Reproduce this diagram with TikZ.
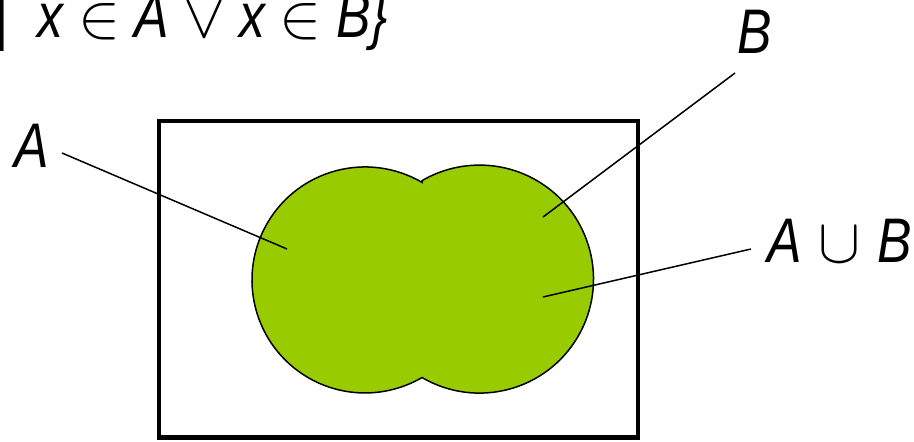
\documentclass[tikz,border=0pt]{standalone}
\usepackage{fix-cm}
\usepackage{fontspec}
\setmainfont{Liberation Sans}[FakeStretch=0.82]
\definecolor{vgreen}{HTML}{99CC00}
\tikzset{
  lbl/.style={inner sep=0pt, anchor=base west, font=\fontsize{63}{70}\selectfont\itshape},
  leader/.style={line width=1.5pt},
}
\begin{document}
\begin{tikzpicture}[x=1pt,y=1pt]
\useasboundingbox (0,0) rectangle (914,442);
\clip (0,0) rectangle (914,442);
% universe rectangle
\draw[line width=4.5pt] (159,4.25) rectangle (638,321);
% union of A and B
\path[fill=vgreen, draw=black, line width=1.5pt]
  (422,259.6) arc[start angle=59.7, end angle=300.3, radius=113]
  arc[start angle=-120.3, end angle=120.3, radius=114] -- cycle;
% labels
\node[lbl] (topt) at (-6,404) {|\hspace{16pt} x $\in$ A $\vee$ x $\in$ B\}};
\node[lbl] (la) at (14,274) {A};
\node[lbl] (lb) at (737,388) {B};
\node[lbl] (lab) at (767,179) {A\hspace{2pt} $\cup$ \hspace{3pt}B};
% leader endpoints
\coordinate (a1) at (62,289);
\coordinate (a2) at (287,193);
\coordinate (b1) at (735,369);
\coordinate (b2) at (543,225);
\coordinate (c1) at (751,193);
\coordinate (c2) at (543,145);
\draw[leader] (a1) -- (a2);
\draw[leader] (b1) -- (b2);
\draw[leader] (c1) -- (c2);
\end{tikzpicture}
\end{document}
